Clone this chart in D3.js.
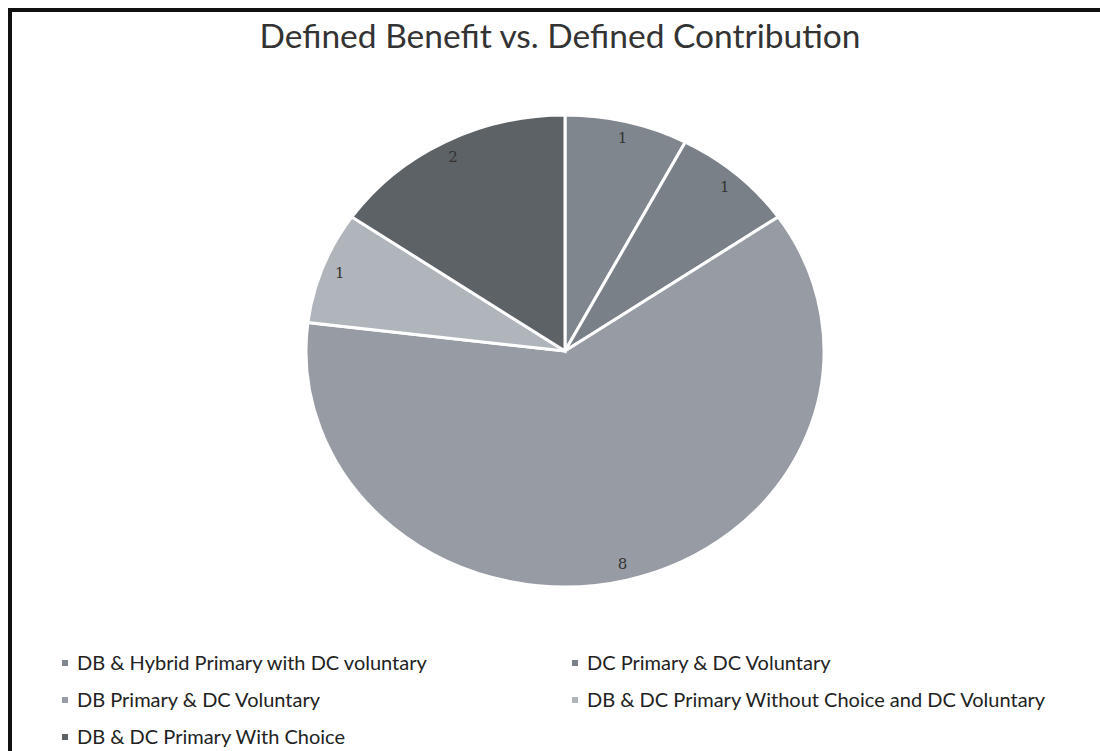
<!DOCTYPE html>
<html>
<head>
<meta charset="utf-8">
<script src="https://cdn.jsdelivr.net/npm/d3@7"></script>
<style>
  html, body { margin: 0; padding: 0; background: #fff; }
  svg { display: block; }
</style>
</head>
<body>
<svg id="chart" width="1100" height="751"></svg>
<script>
const title = "Defined Benefit vs. Defined Contribution";
const categories = [
  "DB & Hybrid Primary with DC voluntary",
  "DC Primary & DC Voluntary",
  "DB Primary & DC Voluntary",
  "DB & DC Primary Without Choice and DC Voluntary",
  "DB & DC Primary With Choice"
];
const values = [1, 1, 8, 1, 2];
const colors = ["#80868e", "#7a8088", "#979ca4", "#b0b4bb", "#5d6266"];

const svg = d3.select("#chart");
const W = 1100, H = 751;

// frame (scanned border)
svg.append("rect").attr("x", 0).attr("y", 0).attr("width", W).attr("height", H).attr("fill", "#fff");
svg.append("line").attr("x1", 8).attr("x2", W).attr("y1", 10).attr("y2", 10)
  .attr("stroke", "#111").attr("stroke-width", 4);
svg.append("line").attr("x1", 10).attr("x2", 10).attr("y1", 8).attr("y2", H)
  .attr("stroke", "#111").attr("stroke-width", 4);

// title
svg.append("text")
  .attr("x", 560).attr("y", 48)
  .attr("text-anchor", "middle")
  .attr("font-family", "Lato, sans-serif")
  .attr("font-size", 33.5)
  .attr("fill", "#333")
  .text(title);

// pie (slightly elliptical like the scan)
const cx = 565, cy = 351, rx = 259, ry = 236;
const pie = d3.pie().sort(null).value(d => d);
const arcs = pie(values);
const arc = d3.arc().innerRadius(0).outerRadius(rx);

const g = svg.append("g").attr("transform", `translate(${cx},${cy}) scale(1,${ry / rx})`);
g.selectAll("path").data(arcs).enter().append("path")
  .attr("d", arc)
  .attr("fill", (d, i) => colors[i])
  .attr("stroke", "#fff")
  .attr("stroke-width", 3)
  .attr("vector-effect", "non-scaling-stroke");

// data labels
const labelArc = d3.arc().innerRadius(rx * 0.93).outerRadius(rx * 0.93);
svg.append("g").selectAll("text").data(arcs).enter().append("text")
  .attr("x", d => cx + labelArc.centroid(d)[0])
  .attr("y", d => cy + labelArc.centroid(d)[1] * ry / rx)
  .attr("dy", "0.35em")
  .attr("text-anchor", "middle")
  .attr("font-family", "DejaVu Serif, serif")
  .attr("font-size", 15)
  .attr("fill", "#333")
  .text(d => d.data);

// legend
const legendPos = [
  [62, 663], [572, 663],
  [62, 700], [572, 700],
  [62, 737]
];
const lg = svg.append("g");
categories.forEach((c, i) => {
  const [x, y] = legendPos[i];
  lg.append("rect").attr("x", x).attr("y", y - 3).attr("width", 6).attr("height", 6)
    .attr("fill", colors[i]);
  lg.append("text").attr("x", x + 15).attr("y", y)
    .attr("dy", "0.35em")
    .attr("font-family", "Lato, sans-serif")
    .attr("font-size", 20)
    .attr("fill", "#222")
    .text(c);
});
</script>
</body>
</html>
